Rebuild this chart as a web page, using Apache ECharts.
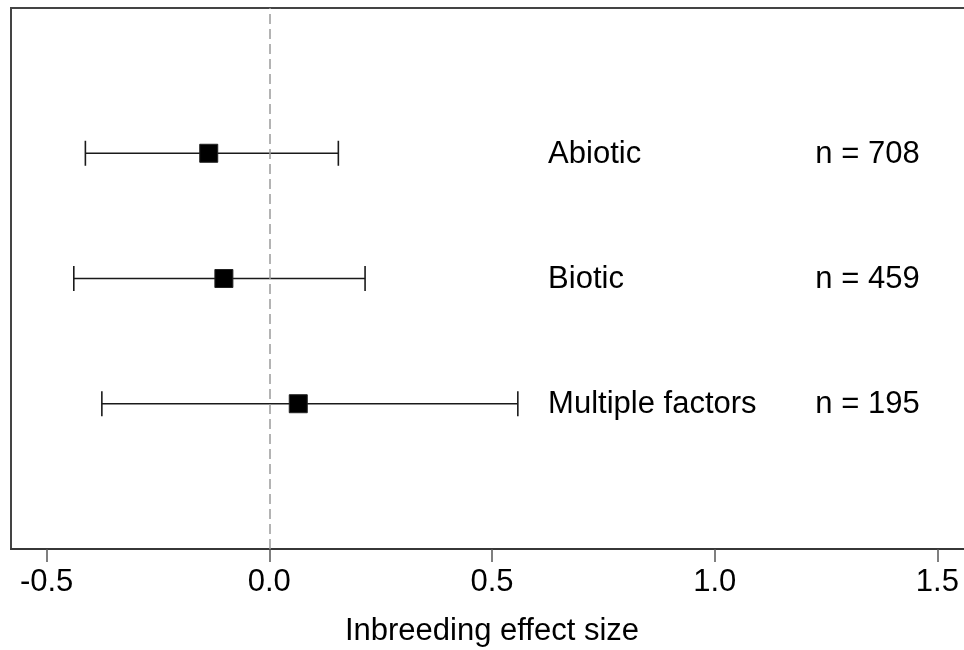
<!DOCTYPE html>
<html>
<head>
<meta charset="utf-8">
<script src="https://cdn.jsdelivr.net/npm/echarts@6/dist/echarts.min.js"></script>
<style>
  html, body { margin: 0; padding: 0; background: #fff; overflow: hidden; width: 964px; height: 650px; }
  #chart { width: 990px; height: 650px; }
</style>
</head>
<body>
<div id="chart"></div>
<script>
// Inbreeding effect size by stress type: mean with 95% interval
const categories = ['Abiotic', 'Biotic', 'Multiple factors'];
const sampleSizes = [708, 459, 195];
const effectMean = [-0.136, -0.102, 0.065];
const ciLower = [-0.413, -0.439, -0.376];
const ciUpper = [0.155, 0.215, 0.558];
const xTicks = [-0.5, 0.0, 0.5, 1.0, 1.5];

const FONT = '"Liberation Sans", Arial, sans-serif';
const FS = 31;
const nRows = categories.length;
// rows are drawn top to bottom: first category highest
const rowY = i => nRows - i;

const barData = categories.map((c, i) => [ciLower[i], ciUpper[i], rowY(i)]);
const pointData = categories.map((c, i) => [effectMean[i], rowY(i)]);
const labelData = categories.map((c, i) => [rowY(i), i]);

const chart = echarts.init(document.getElementById('chart'), null, { renderer: 'canvas' });

chart.setOption({
  animation: false,
  backgroundColor: '#ffffff',
  grid: {
    left: 11, top: 8, width: 962, height: 541,
    outerBoundsMode: 'none',
    containLabel: false,
    show: true, borderColor: '#444', borderWidth: 2, backgroundColor: 'transparent'
  },
  xAxis: {
    type: 'value',
    min: -0.58, max: 1.58,
    name: 'Inbreeding effect size',
    nameLocation: 'middle',
    nameGap: 67,
    nameTextStyle: { fontFamily: FONT, fontSize: FS, color: '#000' },
    axisLine: { show: true, onZero: false, lineStyle: { color: '#333', width: 1.5 } },
    axisTick: { show: true, length: 13, customValues: xTicks, lineStyle: { color: '#555', width: 1.5 } },
    axisLabel: {
      customValues: xTicks, margin: 18,
      fontFamily: FONT, fontSize: FS, color: '#000',
      formatter: v => v.toFixed(1)
    },
    splitLine: { show: false }
  },
  yAxis: {
    type: 'value', min: -0.16, max: 4.16,
    show: false, splitLine: { show: false }
  },
  series: [
    {
      // confidence intervals with end caps
      type: 'custom',
      data: barData,
      z: 3,
      renderItem: (params, api) => {
        const lo = api.coord([api.value(0), api.value(2)]);
        const hi = api.coord([api.value(1), api.value(2)]);
        const cap = 12.5;
        const st = { stroke: '#1a1a1a', lineWidth: 1.6 };
        return {
          type: 'group',
          children: [
            { type: 'line', shape: { x1: lo[0], y1: lo[1], x2: hi[0], y2: hi[1] }, style: st },
            { type: 'line', shape: { x1: lo[0], y1: lo[1] - cap, x2: lo[0], y2: lo[1] + cap }, style: st },
            { type: 'line', shape: { x1: hi[0], y1: hi[1] - cap, x2: hi[0], y2: hi[1] + cap }, style: st }
          ]
        };
      },
      markLine: {
        silent: true,
        symbol: 'none',
        label: { show: false },
        lineStyle: { color: '#9a9a9a', width: 1.5, type: [10, 5] },
        data: [{ xAxis: 0 }]
      }
    },
    {
      // mean effect
      type: 'scatter',
      data: pointData,
      symbol: 'rect',
      symbolSize: 18,
      z: 4,
      itemStyle: { color: '#000', borderColor: '#222', borderWidth: 1, opacity: 1 }
    },
    {
      // category names and sample sizes
      type: 'custom',
      data: labelData,
      z: 5,
      renderItem: (params, api) => {
        const i = api.value(1);
        const pName = api.coord([0.626, api.value(0)]);
        const pN = api.coord([1.226, api.value(0)]);
        const base = { fontFamily: FONT, fontSize: FS, fill: '#000', align: 'left', verticalAlign: 'middle' };
        return {
          type: 'group',
          children: [
            { type: 'text', style: Object.assign({ x: pName[0], y: pName[1] + 1, text: categories[i] }, base) },
            { type: 'text', style: Object.assign({ x: pN[0], y: pN[1] + 1, text: 'n = ' + sampleSizes[i] }, base) }
          ]
        };
      }
    }
  ]
});
</script>
</body>
</html>
